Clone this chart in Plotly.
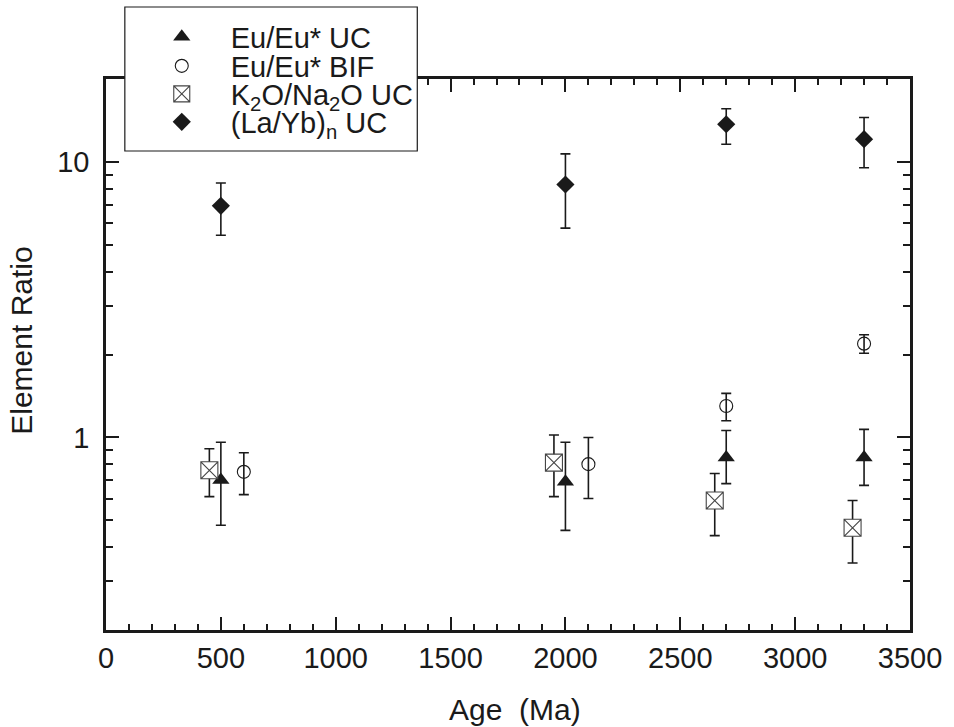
import math
import plotly.graph_objects as go

# ---------------- data ----------------
ages_eu_uc = [500, 2000, 2700, 3300]
eu_uc = [0.70, 0.69, 0.845, 0.845]
eu_uc_hi = [0.96, 0.96, 1.06, 1.07]
eu_uc_lo = [0.48, 0.46, 0.68, 0.67]

ages_eu_bif = [600, 2100, 2700, 3300]
eu_bif = [0.75, 0.80, 1.30, 2.19]
eu_bif_hi = [0.88, 1.00, 1.445, 2.36]
eu_bif_lo = [0.62, 0.60, 1.15, 2.02]

ages_k_na = [450, 1950, 2650, 3250]
k_na = [0.76, 0.81, 0.59, 0.47]
k_na_hi = [0.91, 1.02, 0.74, 0.59]
k_na_lo = [0.61, 0.61, 0.44, 0.35]

ages_la_yb = [500, 2000, 2700, 3300]
la_yb = [6.93, 8.28, 13.7, 12.1]
la_yb_hi = [8.39, 10.7, 15.6, 14.5]
la_yb_lo = [5.42, 5.75, 11.6, 9.52]

names = ["Eu/Eu* UC", "Eu/Eu* BIF", "K<sub>2</sub>O/Na<sub>2</sub>O UC",
         "(La/Yb)<sub>n</sub> UC"]

x_ticks = [0, 500, 1000, 1500, 2000, 2500, 3000, 3500]
y_ticks = [1, 10]
y_minor = [0.3, 0.4, 0.5, 0.6, 0.7, 0.8, 0.9, 2, 3, 4, 5, 6, 7, 8, 9]
x_title = "Age  (Ma)"
y_title = "Element Ratio"

# ---------------- layout constants ----------------
W, H = 954, 727
L, R, T, B = 106, 37, 79, 97
PW, PH = W - L - R, H - T - B
FONT = "Liberation Sans, Arial, Helvetica, sans-serif"
INK = "#1a1a1a"


def px2x(p):
    return (p - L) / PW


def py2y(p):
    return (H - B - p) / PH


def err(vals, hi, lo):
    return dict(type="data", symmetric=False,
                array=[h - v for h, v in zip(hi, vals)],
                arrayminus=[v - l for v, l in zip(vals, lo)],
                color=INK, thickness=1.6, width=5)


fig = go.Figure()
fig.add_trace(go.Scatter(
    x=ages_eu_uc, y=eu_uc, mode="markers", name=names[0], legend="legend",
    marker=dict(symbol="triangle-up", size=15, color=INK, line=dict(width=0)),
    error_y=err(eu_uc, eu_uc_hi, eu_uc_lo)))
fig.add_trace(go.Scatter(
    x=ages_eu_bif, y=eu_bif, mode="markers", name=names[1], legend="legend2",
    marker=dict(symbol="circle-open", size=13, color=INK, line=dict(width=1.1, color=INK)),
    error_y=err(eu_bif, eu_bif_hi, eu_bif_lo)))
fig.add_trace(go.Scatter(
    x=ages_k_na, y=k_na, mode="markers", name=names[2], legend="legend3",
    marker=dict(symbol="square-x", size=17, color="white", line=dict(width=1.1, color="#444")),
    error_y=err(k_na, k_na_hi, k_na_lo)))
fig.add_trace(go.Scatter(
    x=ages_la_yb, y=la_yb, mode="markers", name=names[3], legend="legend4",
    marker=dict(symbol="diamond", size=14, color=INK, line=dict(width=0)),
    error_y=err(la_yb, la_yb_hi, la_yb_lo)))

axis_common = dict(showline=True, linewidth=2.5, linecolor=INK, mirror="ticks",
                   ticks="inside", tickwidth=1.5, tickcolor=INK, ticklen=13,
                   showgrid=False, zeroline=False,
                   tickfont=dict(family=FONT, size=29, color=INK))

fig.update_xaxes(range=[0, 3500], tickmode="array", tickvals=x_ticks,
                 minor=dict(dtick=100, ticks="inside", ticklen=6, tickwidth=1.5,
                            tickcolor=INK, showgrid=False),
                 **axis_common)
fig.update_yaxes(type="log", range=[math.log10(0.2), math.log10(20)],
                 tickmode="array", tickvals=y_ticks, ticktext=["1", "10"],
                 ticklabelstandoff=8,
                 minor=dict(tickmode="array", tickvals=y_minor, ticks="inside",
                            ticklen=7, tickwidth=1.5, tickcolor=INK, showgrid=False),
                 **axis_common)

# axis titles
title_font = dict(family=FONT, size=30, color=INK)
fig.add_annotation(text=x_title, xref="paper", yref="paper", x=px2x(519), y=py2y(709),
                   xanchor="center", yanchor="middle", showarrow=False, font=title_font)
fig.add_annotation(text=y_title, xref="paper", yref="paper", x=px2x(20), y=py2y(341),
                   xanchor="center", yanchor="middle", showarrow=False, textangle=-90,
                   font=title_font)

# legend box (white panel with thin frame)
box_l, box_r, box_t, box_b = 125, 420, 7, 151
fig.add_shape(type="rect", xref="paper", yref="paper",
              x0=px2x(box_l), x1=px2x(box_r), y0=py2y(box_b), y1=py2y(box_t),
              fillcolor="white", line=dict(color=INK, width=1.2), layer="above")

rows = [37, 66, 94, 122]
leg_font = dict(family=FONT, size=29, color=INK)
item_w = 88
leg_x = 182 - 5 - item_w / 2
legs = {}
for i, key in enumerate(["legend", "legend2", "legend3", "legend4"]):
    legs[key] = dict(x=px2x(leg_x), y=py2y(rows[i]), xanchor="left", yanchor="middle",
                     bgcolor="rgba(0,0,0,0)", borderwidth=0, font=leg_font,
                     itemwidth=item_w, visible=True)

fig.update_layout(width=W, height=H, margin=dict(l=L, r=R, t=T, b=B),
                  paper_bgcolor="white", plot_bgcolor="white", showlegend=True,
                  font=dict(family=FONT, color=INK), **legs)

fig.write_html("out.html")
